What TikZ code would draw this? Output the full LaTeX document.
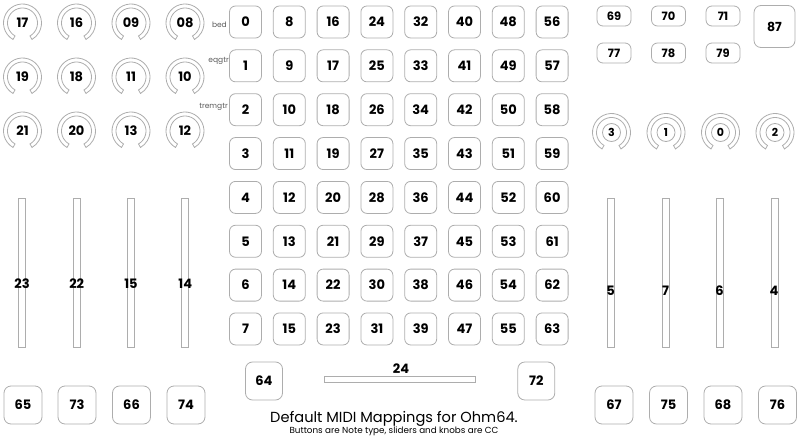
\documentclass[tikz,border=0pt]{standalone}
\usepackage{fontspec}
\setmainfont{Poppins}
\usepackage{tikz}
\usetikzlibrary{positioning}

\definecolor{edgegray}{gray}{0.68}
\definecolor{notegray}{gray}{0.35}

\begin{document}
\begin{tikzpicture}[
    x=1pt, y=-1pt,
    ctl/.style={draw=edgegray, line width=0.8pt, inner sep=0pt, font=\fontsize{13}{14}\selectfont\bfseries},
    pad/.style={ctl, rounded corners=6pt, minimum width=32pt, minimum height=32pt},
    bigbtn/.style={ctl, rounded corners=7pt, minimum width=38pt, minimum height=38pt},
    smallbtn/.style={ctl, rounded corners=6pt, minimum width=34pt, minimum height=20pt, font=\fontsize{11.5}{12}\selectfont\bfseries},
    fader/.style={draw=edgegray, line width=0.8pt, inner sep=0pt, minimum width=7pt, minimum height=149pt},
    faderlabel/.style={inner sep=0pt, font=\fontsize{13}{14}\selectfont\bfseries},
    knob/.style={circle, inner sep=0pt, minimum size=30pt, font=\fontsize{13}{14}\selectfont\bfseries},
    ring/.style={draw=edgegray, line width=0.8pt},
    side/.style={anchor=east, inner sep=0pt, text=notegray, font=\fontsize{7.5}{8}\selectfont}
]
\useasboundingbox (0,0) rectangle (800,441);

% knobs, left block
\node[knob] (knob17) at (22.5,23) {17};
\node[knob] (knob16) at (76.5,23) {16};
\node[knob] (knob09) at (131,23) {09};
\node[knob] (knob08) at (185,23) {08};
\node[knob] (knob19) at (22.5,77) {19};
\node[knob] (knob18) at (76.5,77) {18};
\node[knob] (knob11) at (131,77) {11};
\node[knob] (knob10) at (185,77) {10};
\node[knob] (knob21) at (22.5,131) {21};
\node[knob] (knob20) at (76.5,131) {20};
\node[knob] (knob13) at (131,131) {13};
\node[knob] (knob12) at (185,131) {12};

% knobs, right block
\node[knob, font=\fontsize{11}{12}\selectfont\bfseries] (knob3) at (611.5,132.5) {3};
\node[knob, font=\fontsize{11}{12}\selectfont\bfseries] (knob1) at (666,132.5) {1};
\node[knob, font=\fontsize{11}{12}\selectfont\bfseries] (knob0) at (720.5,132.5) {0};
\node[knob, font=\fontsize{11}{12}\selectfont\bfseries] (knob2) at (775,132.5) {2};

\foreach \k in {17,16,09,08,19,18,11,10,21,20,13,12,3,1,0,2}
  \draw[ring] (knob\k.center) ++(120:19) arc[start angle=120, end angle=420, radius=19]
    -- ++(60:-4) arc[start angle=60, end angle=-240, radius=15] -- cycle;
\foreach \k in {3,1,0,2}
  \draw[ring] (knob\k.center) circle[radius=9];

% pad grid
\foreach \col in {0,...,7}
  \foreach \row in {0,...,7} {
    \pgfmathtruncatemacro\num{8*\col+\row}
    \node[pad] (pad\num) at ({245.5+43.8*\col},{22+43.85*\row}) {\num};
  }

\node[side] (bed) at (227,25) {bed};
\node[side] (eqgtr) at (229,61) {eqgtr};
\node[side] (tremgtr) at (228,107) {tremgtr};

% top right buttons
\node[smallbtn] (btn69) at (614,16) {69};
\node[smallbtn] (btn70) at (668.5,16) {70};
\node[smallbtn] (btn71) at (723,16) {71};
\node[smallbtn] (btn77) at (614,53) {77};
\node[smallbtn] (btn78) at (668.5,53) {78};
\node[smallbtn] (btn79) at (723,53) {79};
\node[ctl, rounded corners=7pt, minimum width=41pt, minimum height=42pt, font=\fontsize{12.5}{13}\selectfont\bfseries] (btn87) at (774.5,26.5) {87};

% faders
\node[fader] (fader23) at (22,272.5) {};
\node[fader] (fader22) at (76.7,272.5) {};
\node[fader] (fader15) at (131,272.5) {};
\node[fader] (fader14) at (185.3,272.5) {};
\node[faderlabel] at (22,284) {23};
\node[faderlabel] at (76.7,284) {22};
\node[faderlabel] at (131,284) {15};
\node[faderlabel] at (185.3,284) {14};

\node[fader] (fader5) at (611,272.5) {};
\node[fader] (fader7) at (665.8,272.5) {};
\node[fader] (fader6) at (720,272.5) {};
\node[fader] (fader4) at (774.5,272.5) {};
\node[faderlabel] at (610.5,291) {5};
\node[faderlabel] at (665.5,291) {7};
\node[faderlabel] at (719.5,291) {6};
\node[faderlabel] at (774,291) {4};

% crossfader and its buttons
\node[fader, minimum width=151pt, minimum height=6pt] (xfade) at (399.7,379.7) {};
\node[faderlabel] at (401,369) {24};
\node[bigbtn, minimum width=37pt] (btn64) at (264,381) {64};
\node[bigbtn, minimum width=37pt] (btn72) at (536.3,381) {72};

% bottom buttons
\node[bigbtn] (btn65) at (23,405) {65};
\node[bigbtn] (btn73) at (77,405) {73};
\node[bigbtn] (btn66) at (131.5,405) {66};
\node[bigbtn] (btn74) at (186,405) {74};
\node[bigbtn] (btn67) at (614,405) {67};
\node[bigbtn] (btn75) at (668.5,405) {75};
\node[bigbtn] (btn68) at (723,405) {68};
\node[bigbtn] (btn76) at (777.5,405) {76};

% caption
\node[inner sep=0pt, font=\fontsize{14.6}{16}\selectfont] (title) at (394,419) {Default MIDI Mappings for Ohm64.};
\node[inner sep=0pt, font=\fontsize{8.8}{9}\selectfont] (subtitle) at (394,431.5) {Buttons are Note type, sliders and knobs are CC};
\end{tikzpicture}
\end{document}
